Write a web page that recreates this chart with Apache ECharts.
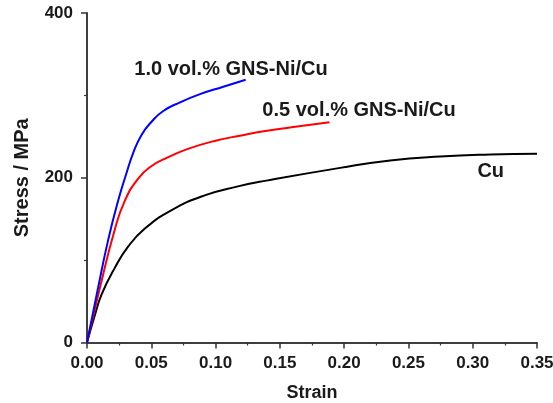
<!DOCTYPE html>
<html>
<head>
<meta charset="utf-8">
<script src="https://cdn.jsdelivr.net/npm/echarts@6/dist/echarts.min.js"></script>
<style>
html,body{margin:0;padding:0;background:#fff;}
#chart{width:553px;height:403px;}
</style>
</head>
<body>
<div id="chart"></div>
<script>
// Data
const seriesNames = ['1.0 vol.% GNS-Ni/Cu', '0.5 vol.% GNS-Ni/Cu', 'Cu'];

const strain10 = [0, 0.0087, 0.0164, 0.0242, 0.0308, 0.0359, 0.0424, 0.0502, 0.0593, 0.0723, 0.0879, 0.106, 0.1234];
const stress10 = [0, 67, 124, 172, 206, 230, 252, 268, 281, 291.5, 301.5, 310.5, 319];

const strain05 = [0, 0.010, 0.0214, 0.0294, 0.0398, 0.050, 0.0604, 0.0785, 0.10, 0.119, 0.14, 0.165, 0.1886];
const stress05 = [0, 66, 136, 172, 199, 214, 223, 235, 245, 251, 257, 262.5, 267.5];

const strainCu = [0, 0.0061, 0.0113, 0.0214, 0.0318, 0.0448, 0.0655, 0.0915, 0.1174, 0.1395, 0.1969, 0.2358, 0.2747, 0.3136, 0.35];
const stressCu = [0, 33, 58, 90, 116, 138, 160.4, 178.6, 189.5, 196.5, 212, 221, 225.8, 228.2, 229];

const xTicks = [0, 0.05, 0.10, 0.15, 0.20, 0.25, 0.30, 0.35];
const yTicks = [0, 200, 400];

// label anchors (data coordinates)
const labelAnchors = [[0.112, 332], [0.2116, 281.5], [0.314, 207.6]];

const colors = ['#0000ff', '#ff0000', '#000000'];
const FONT = '"Liberation Sans", Arial, Helvetica, sans-serif';
const TXT = '#1a1a1a';
const AX = '#333333';

function pairs(xs, ys) { return xs.map((x, i) => [x, ys[i]]); }

const datasets = [pairs(strain10, stress10), pairs(strain05, stress05), pairs(strainCu, stressCu)];

const chart = echarts.init(document.getElementById('chart'), null, {renderer: 'canvas'});

const series = datasets.map((d, i) => ({
  name: seriesNames[i],
  type: 'line',
  data: d,
  showSymbol: false,
  smooth: 0.5,
  lineStyle: {color: colors[i], width: 2},
  itemStyle: {color: colors[i]},
  z: 3 - i,
  markPoint: {
    symbol: 'circle',
    symbolSize: 0,
    silent: true,
    data: [{coord: labelAnchors[i], value: seriesNames[i]}],
    label: {
      show: true,
      position: 'inside',
      formatter: seriesNames[i],
      fontFamily: FONT,
      fontWeight: 'bold',
      fontSize: 20,
      color: TXT
    }
  }
}));

chart.setOption({
  animation: false,
  backgroundColor: '#ffffff',
  grid: {left: 87, right: 16, top: 13, bottom: 60.5, containLabel: false, outerBoundsMode: 'none'},
  xAxis: [{
    type: 'value',
    min: 0, max: 0.35, interval: 0.05,
    name: 'Strain',
    nameLocation: 'middle',
    nameGap: 42,
    nameTextStyle: {fontFamily: FONT, fontWeight: 'bold', fontSize: 18, color: TXT},
    axisLine: {show: true, lineStyle: {color: AX, width: 1.5}},
    axisTick: {show: true, inside: false, length: 6, lineStyle: {color: AX, width: 1.5}},
    minorTick: {show: true, splitNumber: 2, length: 3, lineStyle: {color: AX, width: 1.2}},
    splitLine: {show: false},
    axisLabel: {
      margin: 12,
      fontFamily: FONT, fontWeight: 'bold', fontSize: 17, color: TXT,
      formatter: v => xTicks.find(t => Math.abs(t - v) < 1e-9) !== undefined ? v.toFixed(2) : ''
    }
  }, {
    type: 'value', position: 'top', min: 0, max: 0.35,
    axisLine: {show: true, lineStyle: {color: AX, width: 1.5}},
    axisTick: {show: false}, axisLabel: {show: false}, splitLine: {show: false}
  }],
  yAxis: [{
    type: 'value',
    min: 0, max: 400, interval: 200,
    name: 'Stress / MPa',
    nameLocation: 'middle',
    nameGap: 55,
    nameTextStyle: {fontFamily: FONT, fontWeight: 'bold', fontSize: 20, color: TXT},
    axisLine: {show: true, lineStyle: {color: AX, width: 1.5}},
    axisTick: {show: true, inside: false, length: 6, lineStyle: {color: AX, width: 1.5}},
    minorTick: {show: true, splitNumber: 2, length: 3, lineStyle: {color: AX, width: 1.2}},
    splitLine: {show: false},
    axisLabel: {
      margin: 14,
      fontFamily: FONT, fontWeight: 'bold', fontSize: 17, color: TXT,
      formatter: v => yTicks.indexOf(v) >= 0 ? String(v) : ''
    }
  }, {
    type: 'value', position: 'right', min: 0, max: 400,
    axisLine: {show: true, lineStyle: {color: AX, width: 1.5}},
    axisTick: {show: false}, axisLabel: {show: false}, splitLine: {show: false}
  }],
  series: series
});
</script>
</body>
</html>
